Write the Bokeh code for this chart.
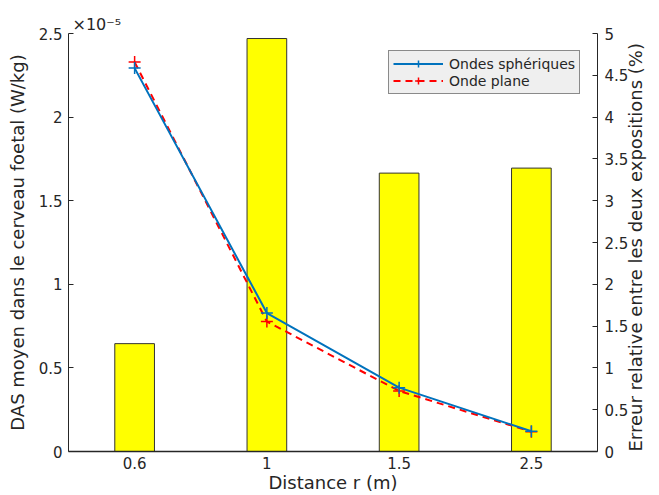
import math
from bokeh.plotting import figure
from bokeh.models import (Range1d, LinearAxis, FactorRange, Legend, LegendItem,
                          Title, FixedTicker, CustomJSTickFormatter)
from bokeh.embed import file_html
from bokeh.resources import INLINE

# ---- data ----
distances = ["0.6", "1", "1.5", "2.5"]              # Distance r (m)
das_spherique = [2.293, 0.828, 0.382, 0.121]       # x 1e-5 W/kg
das_plane = [2.329, 0.777, 0.362, 0.118]           # x 1e-5 W/kg
erreur_rel = [1.29, 4.94, 3.33, 3.39]              # %
left_ticks = [0, 0.5, 1, 1.5, 2, 2.5]
right_ticks = [0, 0.5, 1, 1.5, 2, 2.5, 3, 3.5, 4, 4.5, 5]

FONT = "DejaVu Sans"
TXT = "#262626"
BLUE = "#0072bd"
RED = "#ff0000"

p = figure(x_range=FactorRange(factors=distances), y_range=Range1d(0, 2.5),
           width=659, height=495, output_backend="svg", toolbar_location=None,
           min_border_left=68, min_border_right=61, min_border_top=33,
           min_border_bottom=43)
p.outline_line_color = None
p.xgrid.visible = False
p.ygrid.visible = False
p.extra_y_ranges = {"err": Range1d(0, 5)}

fmt = CustomJSTickFormatter(code="return String(tick);")

def style_axis(ax):
    ax.axis_line_color = TXT
    ax.major_tick_line_color = TXT
    ax.major_tick_in = 5
    ax.major_tick_out = 0
    ax.minor_tick_line_color = None
    ax.major_label_text_font = FONT
    ax.major_label_text_font_size = "15px"
    ax.major_label_text_color = TXT
    ax.axis_label_text_font = FONT
    ax.axis_label_text_font_size = "18px"
    ax.axis_label_text_font_style = "normal"
    ax.axis_label_text_color = TXT

xax = p.xaxis[0]
style_axis(xax)
xax.major_tick_in = 0
xax.axis_line_width = 1.5
xax.major_label_standoff = 5
xax.axis_label_standoff = 0
xax.axis_label = "Distance r (m)"

lax = p.yaxis[0]
style_axis(lax)
lax.ticker = FixedTicker(ticks=left_ticks)
lax.formatter = fmt
lax.major_label_standoff = 6
lax.axis_label_standoff = 8
lax.axis_label = "DAS moyen dans le cerveau foetal (W/kg)"

rax = LinearAxis(y_range_name="err", ticker=FixedTicker(ticks=right_ticks),
                 formatter=fmt)
style_axis(rax)
rax.major_label_standoff = 7
rax.axis_label_standoff = 4
rax.axis_label = "Erreur relative entre les deux expositions (%)"
try:
    rax.axis_label_orientation = math.pi / 2
except Exception:
    pass
try:
    rax.axis_label_align = "start"
except Exception:
    pass
p.add_layout(rax, "right")

# bars (right axis)
p.vbar(x=distances, top=erreur_rel, width=0.3, y_range_name="err",
       fill_color="#ffff00", line_color="#333333", line_width=1)

# lines (left axis)
lr = p.line(distances, das_plane, line_color=RED, line_width=2, line_dash="7 5")
mr = p.scatter(distances, das_plane, marker="cross", size=12, line_color=RED,
               line_width=1.5)
lb = p.line(distances, das_spherique, line_color=BLUE, line_width=2)
mb = p.scatter(distances, das_spherique, marker="cross", size=12,
               line_color=BLUE, line_width=1.5)

legend = Legend(items=[LegendItem(label="Ondes sphériques", renderers=[lb, mb]),
                       LegendItem(label="Onde plane", renderers=[lr, mr])],
                location=(320, 357))
legend.background_fill_color = "#efefef"
legend.background_fill_alpha = 1
legend.border_line_color = TXT
legend.border_line_width = 1
legend.label_text_font = FONT
legend.label_text_font_size = "14px"
legend.label_text_color = TXT
legend.glyph_width = 50
legend.glyph_height = 17
legend.label_height = 17
legend.label_standoff = 6
legend.spacing = 0
legend.padding = 4
legend.margin = 0
p.add_layout(legend)

# exponent multiplier
p.add_layout(Title(text="×10⁻⁵", align="left", offset=4, standoff=0,
                   text_font=FONT, text_font_size="16px", text_color=TXT,
                   text_font_style="normal"), "above")

open("out.html", "w").write(file_html(p, INLINE))
